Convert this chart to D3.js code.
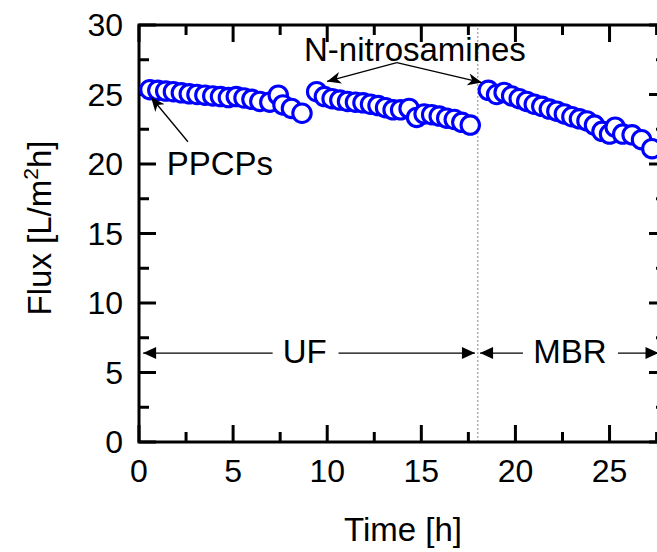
<!DOCTYPE html>
<html>
<head>
<meta charset="utf-8">
<script src="https://cdn.jsdelivr.net/npm/d3@7"></script>
<style>
  body { margin: 0; background: #fff; }
  svg { display: block; overflow: hidden; }
  text { font-family: "Liberation Sans", Arial, sans-serif; fill: #000; }
</style>
</head>
<body>
<div class="chart"></div>
<script>
// time [h] and flux [L/m2h]
const ppcpTime = [0.58, 1.0, 1.42, 1.83, 2.25, 2.67, 3.08, 3.5, 3.92, 4.33, 4.75, 5.17, 5.58, 6.0, 6.42, 6.95, 7.4, 7.65, 8.1, 8.66];
const ppcpFlux = [25.35, 25.3, 25.25, 25.2, 25.12, 25.05, 25.0, 24.95, 24.9, 24.85, 24.78, 24.85, 24.75, 24.65, 24.5, 24.45, 24.95, 24.25, 24.0, 23.65];

const ufTime = [9.44, 9.85, 10.26, 10.67, 11.08, 11.5, 11.9, 12.3, 12.7, 13.1, 13.5, 13.9, 14.35, 14.75, 15.15, 15.55, 15.95, 16.35, 16.75, 17.15, 17.6];
const ufFlux = [25.2, 24.85, 24.7, 24.6, 24.5, 24.45, 24.4, 24.3, 24.2, 24.05, 23.9, 23.9, 24.0, 23.35, 23.6, 23.55, 23.45, 23.3, 23.2, 23.0, 22.8];

const mbrTime = [18.56, 19.0, 19.4, 19.8, 20.2, 20.6, 21.0, 21.4, 21.8, 22.2, 22.6, 23.0, 23.4, 23.8, 24.2, 24.6, 25.0, 25.3, 25.7, 26.2, 26.7, 27.25];
const mbrFlux = [25.3, 25.0, 25.15, 24.9, 24.7, 24.5, 24.3, 24.15, 23.95, 23.8, 23.6, 23.4, 23.25, 23.1, 22.8, 22.35, 22.15, 22.65, 22.15, 22.1, 21.75, 21.1];

const xTicks = [0, 5, 10, 15, 20, 25];
const yTicks = [0, 5, 10, 15, 20, 25, 30];

const width = 657, height = 552;
const margin = {top: 25, left: 139, right: -9, bottom: 110};

const svg = d3.select('.chart')
    .append('svg')
    .attr('width', width)
    .attr('height', height);

const xScale = d3.scaleLinear()
    .domain([0, 28])
    .range([margin.left, width - margin.right]);

const yScale = d3.scaleLinear()
    .domain([0, 30])
    .range([height - margin.bottom, margin.top]);

const x0 = xScale(0), x1 = xScale(28), y0 = yScale(0), y1 = yScale(30);

// minor + major ticks, mirrored on all four sides
const xMinor = d3.range(2.5, 28, 5);
const yMinor = d3.range(2.5, 30, 5);
const tickW = 3, majLen = 17, minLen = 10;

const ticks = svg.append('g').attr('stroke', 'black').attr('stroke-width', tickW);
xTicks.concat(xMinor).forEach(t => {
    const len = xTicks.includes(t) ? majLen : minLen;
    ticks.append('line').attr('x1', xScale(t)).attr('x2', xScale(t)).attr('y1', y0).attr('y2', y0 - len);
    ticks.append('line').attr('x1', xScale(t)).attr('x2', xScale(t)).attr('y1', y1).attr('y2', y1 + len);
});
yTicks.concat(yMinor).forEach(v => {
    const len = yTicks.includes(v) ? majLen : minLen;
    ticks.append('line').attr('y1', yScale(v)).attr('y2', yScale(v)).attr('x1', x0).attr('x2', x0 + len);
    ticks.append('line').attr('y1', yScale(v)).attr('y2', yScale(v)).attr('x1', x1).attr('x2', x1 - len);
});

// dotted separator UF / MBR
svg.append('line')
    .attr('x1', xScale(18)).attr('x2', xScale(18))
    .attr('y1', y0).attr('y2', y1)
    .attr('stroke', '#999')
    .attr('stroke-width', 1.2)
    .attr('stroke-dasharray', '2,2');

// frame
svg.append('rect')
    .attr('x', x0).attr('y', y1)
    .attr('width', x1 - x0).attr('height', y0 - y1)
    .attr('fill', 'none')
    .attr('stroke', 'black')
    .attr('stroke-width', 3);

// tick labels
svg.selectAll('.xlab')
    .data(xTicks)
    .enter()
    .append('text')
    .attr('class', 'xlab')
    .attr('x', d => xScale(d))
    .attr('y', y0 + 40)
    .attr('text-anchor', 'middle')
    .attr('font-size', 32)
    .text(d => d);

svg.selectAll('.ylab')
    .data(yTicks)
    .enter()
    .append('text')
    .attr('class', 'ylab')
    .attr('x', x0 - 16)
    .attr('y', d => yScale(d) + 11)
    .attr('text-anchor', 'end')
    .attr('font-size', 32)
    .text(d => d);

svg.append('text')
    .attr('x', 403)
    .attr('y', 541)
    .attr('text-anchor', 'middle')
    .attr('font-size', 33)
    .text('Time [h]');

const ylabel = svg.append('text')
    .attr('transform', 'translate(51,228) rotate(-90)')
    .attr('text-anchor', 'middle')
    .attr('font-size', 33);
ylabel.append('tspan').text('Flux [L/m');
ylabel.append('tspan').attr('font-size', 21).attr('dy', -13).text('2');
ylabel.append('tspan').attr('dy', 13).text('h]');

// arrow heads
const defs = svg.append('defs');
defs.append('marker')
    .attr('id', 'head')
    .attr('viewBox', '-14 -7 16 14')
    .attr('markerWidth', 16).attr('markerHeight', 14)
    .attr('markerUnits', 'userSpaceOnUse')
    .attr('orient', 'auto')
    .append('path')
    .attr('d', 'M0,0 L-14,-6 L-10,0 L-14,6 Z')
    .attr('fill', 'black');
defs.append('marker')
    .attr('id', 'tri')
    .attr('viewBox', '-14 -7 16 14')
    .attr('markerWidth', 16).attr('markerHeight', 14)
    .attr('markerUnits', 'userSpaceOnUse')
    .attr('orient', 'auto')
    .append('path')
    .attr('d', 'M0,0 L-13,-6 L-13,6 Z')
    .attr('fill', 'black');

// data points: three runs, later circles drawn over earlier ones
const series = [
    ppcpTime.map((t, i) => ({t: t, f: ppcpFlux[i]})),
    ufTime.map((t, i) => ({t: t, f: ufFlux[i]})),
    mbrTime.map((t, i) => ({t: t, f: mbrFlux[i]}))
];
series.forEach(s => {
    svg.append('g').selectAll('circle')
        .data(s)
        .enter()
        .append('circle')
        .attr('cx', d => xScale(d.t))
        .attr('cy', d => yScale(d.f))
        .attr('r', 9.2)
        .attr('fill', 'white')
        .attr('stroke', '#0000ff')
        .attr('stroke-width', 3.1);
});

// annotations (data coordinates)
const arrows = [
    {from: [13.7, 27.3], to: [9.99, 25.94], m: 'head'},
    {from: [13.7, 27.3], to: [18.22, 25.86], m: 'head'},
    {from: [2.6, 21.6], to: [0.64, 24.8], m: 'head'},
    {from: [7.1, 6.4], to: [0.22, 6.4], m: 'tri'},
    {from: [10.6, 6.4], to: [17.85, 6.4], m: 'tri'},
    {from: [20.4, 6.4], to: [18.12, 6.4], m: 'tri'},
    {from: [25.45, 6.4], to: [27.6, 6.4], m: 'tri'}
];
svg.selectAll('.arrow')
    .data(arrows)
    .enter()
    .append('line')
    .attr('class', 'arrow')
    .attr('x1', d => xScale(d.from[0]))
    .attr('y1', d => yScale(d.from[1]))
    .attr('x2', d => xScale(d.to[0]))
    .attr('y2', d => yScale(d.to[1]))
    .attr('stroke', 'black')
    .attr('stroke-width', 1.3)
    .attr('marker-end', d => `url(#${d.m})`);

const labels = [
    {t: 14.66, f: 27.4, txt: 'N-nitrosamines', a: 'middle'},
    {t: 1.47, f: 19.24, txt: 'PPCPs', a: 'start'},
    {t: 8.8, f: 5.65, txt: 'UF', a: 'middle'},
    {t: 22.9, f: 5.65, txt: 'MBR', a: 'middle'}
];
svg.selectAll('.note')
    .data(labels)
    .enter()
    .append('text')
    .attr('class', 'note')
    .attr('x', d => xScale(d.t))
    .attr('y', d => yScale(d.f))
    .attr('text-anchor', d => d.a)
    .attr('font-size', 33)
    .text(d => d.txt);
</script>
</body>
</html>
